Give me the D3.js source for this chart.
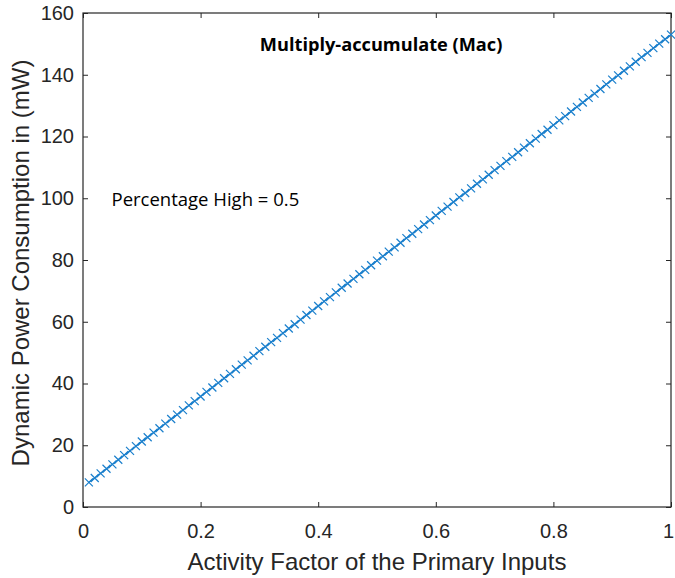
<!DOCTYPE html>
<html>
<head>
  <script src="https://d3js.org/d3.v7.min.js"></script>
  <style>
    body { margin: 0; background: #fff; }
    text { font-family: "Liberation Sans", Arial, sans-serif; }
  </style>
</head>
<body>
<svg width="675" height="578"></svg>
<script>
  const svg = d3.select("svg");

  const activity = [0.01,0.02,0.03,0.04,0.05,0.06,0.07,0.08,0.09,0.10,
    0.11,0.12,0.13,0.14,0.15,0.16,0.17,0.18,0.19,0.20,
    0.21,0.22,0.23,0.24,0.25,0.26,0.27,0.28,0.29,0.30,
    0.31,0.32,0.33,0.34,0.35,0.36,0.37,0.38,0.39,0.40,
    0.41,0.42,0.43,0.44,0.45,0.46,0.47,0.48,0.49,0.50,
    0.51,0.52,0.53,0.54,0.55,0.56,0.57,0.58,0.59,0.60,
    0.61,0.62,0.63,0.64,0.65,0.66,0.67,0.68,0.69,0.70,
    0.71,0.72,0.73,0.74,0.75,0.76,0.77,0.78,0.79,0.80,
    0.81,0.82,0.83,0.84,0.85,0.86,0.87,0.88,0.89,0.90,
    0.91,0.92,0.93,0.94,0.95,0.96,0.97,0.98,0.99,1.00];

  const power = [8.0,9.4,10.9,12.4,13.8,15.3,16.8,18.2,19.7,21.2,
    22.6,24.1,25.5,27.0,28.5,29.9,31.4,32.9,34.3,35.8,
    37.3,38.7,40.2,41.7,43.1,44.6,46.1,47.5,49.0,50.5,
    51.9,53.4,54.8,56.3,57.8,59.2,60.7,62.2,63.6,65.1,
    66.6,68.0,69.5,71.0,72.4,73.9,75.4,76.8,78.3,79.8,
    81.2,82.7,84.1,85.6,87.1,88.5,90.0,91.5,92.9,94.4,
    95.9,97.3,98.8,100.3,101.7,103.2,104.7,106.1,107.6,109.1,
    110.5,112.0,113.4,114.9,116.4,117.8,119.3,120.8,122.2,123.7,
    125.2,126.6,128.1,129.6,131.0,132.5,133.9,135.4,136.9,138.4,
    139.8,141.3,142.7,144.2,145.7,147.1,148.6,150.1,151.5,153.0];

  const xTicks = [0, 0.2, 0.4, 0.6, 0.8, 1];
  const yTicks = [0, 20, 40, 60, 80, 100, 120, 140, 160];

  const mLeft = 83, mRight = 671, mTop = 13, mBottom = 507;
  const x = d3.scaleLinear().domain([0, 1]).range([mLeft, mRight]);
  const y = d3.scaleLinear().domain([0, 160]).range([mBottom, mTop]);

  const tick = 5;

  // bottom and top axes, ticks pointing inward
  const gx = svg.append("g").attr("transform", `translate(0,${mBottom})`)
    .call(d3.axisBottom(x).tickValues(xTicks).tickFormat(d => String(d)).tickSizeInner(-tick).tickSizeOuter(0).tickPadding(17));
  const gxt = svg.append("g").attr("transform", `translate(0,${mTop})`)
    .call(d3.axisTop(x).tickValues(xTicks).tickFormat("").tickSizeInner(-tick).tickSizeOuter(0));
  const gy = svg.append("g").attr("transform", `translate(${mLeft},0)`)
    .call(d3.axisLeft(y).tickValues(yTicks).tickFormat(d => d).tickSizeInner(-tick).tickSizeOuter(0).tickPadding(9));
  const gyr = svg.append("g").attr("transform", `translate(${mRight},0)`)
    .call(d3.axisRight(y).tickValues(yTicks).tickFormat("").tickSizeInner(-tick).tickSizeOuter(0));

  [gx, gxt, gy, gyr].forEach(g => {
    g.select(".domain").remove();
    g.selectAll("line").attr("stroke", "#262626");
    g.selectAll("text").attr("font-size", 20).attr("fill", "#262626")
      .style("font-family", "'Liberation Sans', Arial, sans-serif");
  });
  // keep the last x label inside the window
  gx.selectAll("text").filter(d => d === 1).attr("dx", -3);

  svg.append("rect")
    .attr("x", mLeft).attr("y", mTop)
    .attr("width", mRight - mLeft).attr("height", mBottom - mTop)
    .attr("fill", "none").attr("stroke", "#262626").attr("stroke-width", 1.2);

  const pts = activity.map((a, i) => [a, power[i]]);
  const blue = "#1a7fcc";

  svg.append("path")
    .datum(pts)
    .attr("fill", "none")
    .attr("stroke", blue)
    .attr("stroke-width", 1.2)
    .attr("d", d3.line().x(d => x(d[0])).y(d => y(d[1])));

  const m = 4;
  svg.append("g").selectAll("path.mk")
    .data(pts)
    .enter().append("path")
    .attr("class", "mk")
    .attr("fill", "none")
    .attr("stroke", blue)
    .attr("stroke-width", 1.2)
    .attr("d", d => {
      const cx = x(d[0]), cy = y(d[1]);
      return `M${cx - m},${cy - m}L${cx + m},${cy + m}M${cx - m},${cy + m}L${cx + m},${cy - m}`;
    });

  // annotations
  svg.append("text")
    .attr("x", x(0.507)).attr("y", y(147.6))
    .attr("text-anchor", "middle")
    .attr("font-size", 18.2).attr("font-weight", "bold")
    .style("font-family", "'Open Sans', sans-serif")
    .attr("fill", "#000")
    .text("Multiply-accumulate (Mac)");

  svg.append("text")
    .attr("x", x(0.0485)).attr("y", y(97.5))
    .attr("font-size", 18.5)
    .style("font-family", "'Open Sans', sans-serif")
    .attr("fill", "#000")
    .text("Percentage High = 0.5");

  // axis labels
  svg.append("text")
    .attr("x", (mLeft + mRight) / 2).attr("y", 570)
    .attr("text-anchor", "middle")
    .attr("font-size", 24).attr("fill", "#262626")
    .text("Activity Factor of the Primary Inputs");

  svg.append("text")
    .attr("transform", `translate(29,263) rotate(-90)`)
    .attr("text-anchor", "middle")
    .attr("font-size", 24).attr("fill", "#262626")
    .text("Dynamic Power Consumption in (mW)");
</script>
</body>
</html>
